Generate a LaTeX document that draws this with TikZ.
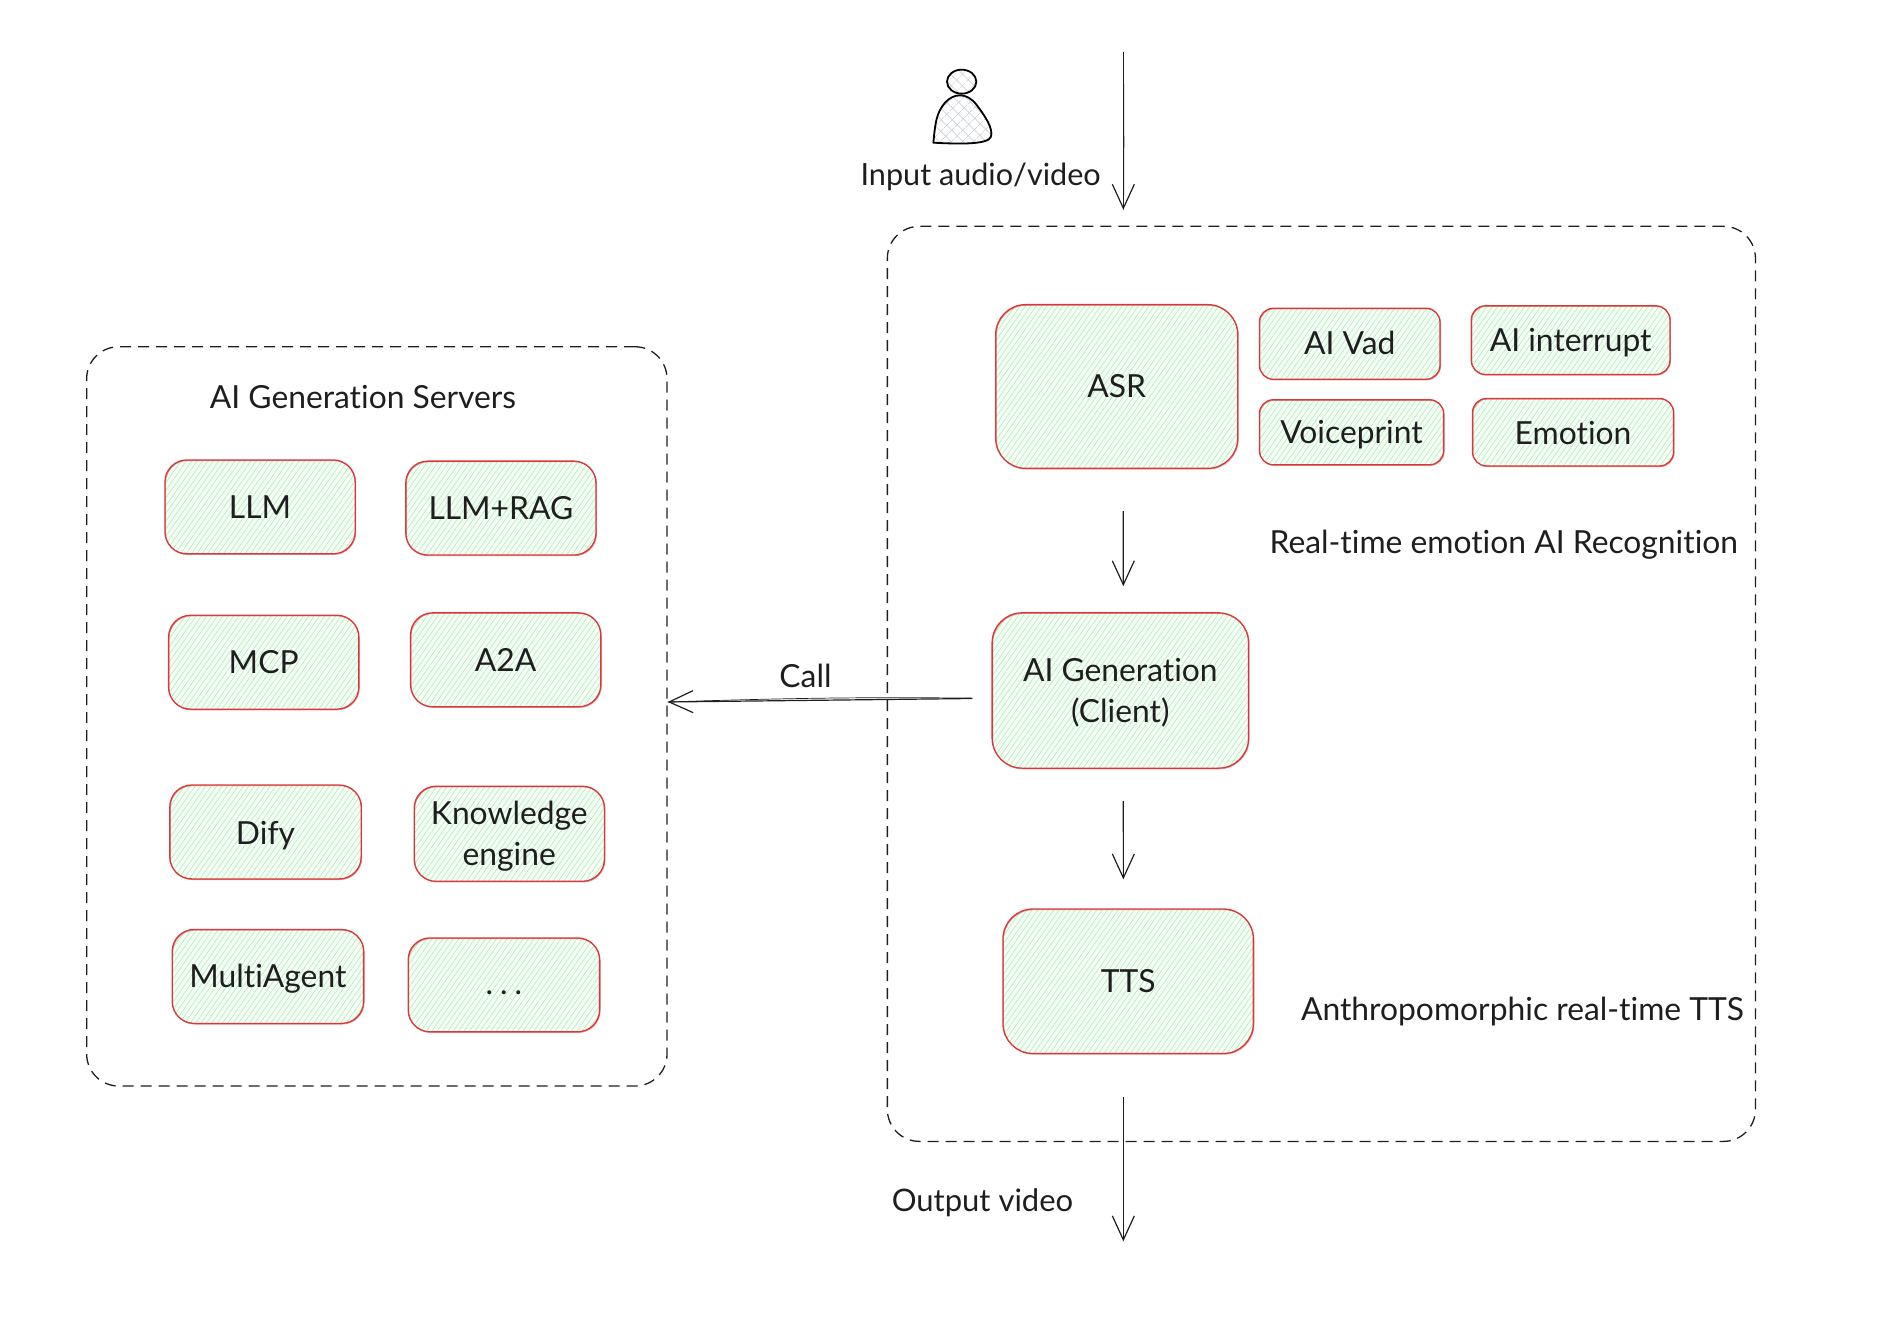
\documentclass[tikz,border=0pt]{standalone}
\usepackage{fontspec}
\setmainfont{Lato}[Ligatures={NoCommon,NoContextual,NoRare}]
\usetikzlibrary{arrows.meta,patterns.meta,calc}
\definecolor{ink}{HTML}{1E1E1E}
\definecolor{redline}{HTML}{D9383A}
\definecolor{hatch}{HTML}{A8EEB2}
\definecolor{persongrey}{HTML}{CED4DA}
\tikzset{
  x=0.602pt,y=-0.602pt,
  txt/.style={text=ink,font=\fontsize{15.9}{20.5}\selectfont,align=center,inner sep=0pt},
  card/.style={txt,draw=redline,line width=0.65pt,
    preaction={fill=hatch,fill opacity=0.1},
    preaction={pattern={Lines[angle=55,distance=2.2pt,line width=0.3pt]},pattern color=hatch},
    postaction={draw=redline,draw opacity=0.55,line width=0.4pt,transform canvas={xshift=0.3pt,yshift=-0.35pt}}},
  bigcard/.style={card,rounded corners=15pt},
  midcard/.style={card,rounded corners=11pt},
  smallcard/.style={card,rounded corners=7pt},
  group/.style={draw=ink,line width=0.65pt,dash pattern=on 5.5pt off 3.5pt,rounded corners=16pt,inner sep=0pt},
  conn/.style={draw=ink,line width=0.6pt,-{Straight Barb[length=12pt,width=11pt,line width=0.6pt]}},
  conntwo/.style={draw=ink,line width=0.35pt},
}
\newcommand{\mv}[2]{\raisebox{#1}[\height][\depth]{#2}}
\newcommand{\dn}[1]{\mv{-1.2pt}{#1}}
% box from display corners: name, style, x1,y1,x2,y2, text
\newcommand{\boxat}[7]{%
  \pgfmathsetmacro{\bw}{(#5-#3)*0.602}%
  \pgfmathsetmacro{\bh}{(#6-#4)*0.602}%
  \node[#2,minimum width=\bw pt,minimum height=\bh pt,inner sep=0pt] (#1) at ({(#3+#5)/2},{(#4+#6)/2}) {#7};}
\begin{document}
\begin{tikzpicture}
\useasboundingbox (0,0) rectangle (1568.1,1094.6);
% groups
\boxat{right}{group}{737}{188}{1458}{948}{}
\boxat{left}{group}{72}{288}{554}{902}{}
% right side cards
\boxat{asr}{bigcard}{827}{253}{1028}{389}{ASR}
\boxat{vad}{smallcard}{1046}{256}{1196}{315}{\mv{0.6pt}{AI Vad}}
\boxat{interrupt}{smallcard}{1222}{254}{1387}{311}{\dn{AI interrupt}}
\boxat{voiceprint}{smallcard}{1046}{332}{1199}{386}{\dn{Voiceprint}}
\boxat{emotion}{smallcard}{1223}{331}{1390}{387}{\mv{-0.6pt}{Emotion}}
\boxat{gen}{bigcard}{824}{509}{1037}{638}{\dn{AI Generation}\\\dn{(Client)}}
\boxat{tts}{bigcard}{833}{755}{1041}{875}{TTS}
% left side cards
\boxat{llm}{midcard}{137}{382}{295}{460}{LLM}
\boxat{rag}{midcard}{337}{383}{495}{461}{LLM+RAG}
\boxat{mcp}{midcard}{140}{511}{298}{589}{MCP}
\boxat{aa}{midcard}{341}{509}{499}{587}{A2A}
\boxat{dify}{midcard}{141}{652}{300}{730}{\mv{-1.8pt}{Dify}}
\boxat{know}{midcard}{344}{653}{502}{732}{\dn{Knowledge}\\\dn{engine}}
\boxat{multi}{midcard}{143}{772}{302}{850}{\dn{MultiAgent}}
\boxat{more}{midcard}{339}{779}{498}{857}{\mv{-4pt}{.\hspace{3.5pt}.\hspace{3.5pt}.}}
% labels
\node[txt] (servers) at (301.5,330) {AI Generation Servers};
\node[txt] (recog) at (1249,452) {Real-time emotion AI Recognition};
\node[txt] (anthro) at (1264.5,840) {Anthropomorphic real-time TTS};
\node[txt,font=\fontsize{15.3}{20.5}\selectfont] (input) at (814.5,147) {Input audio/video};
\node[txt,font=\fontsize{15.5}{20.5}\selectfont] (output) at (816,999) {Output video};
\node[txt] (call) at (669,561) {Call};
% free ends
\coordinate (intop) at (933,43);
\coordinate (outend) at (933,1031);
% connectors
\draw[conn,shorten >=8pt] (intop) -- (intop |- right.north);
\draw[conntwo,shorten >=8pt] (intop) to[bend left=0.6] (intop |- right.north);
\draw[conn,shorten <=21pt,shorten >=13pt] ([xshift=3.3pt]asr.south) -- ([xshift=1.5pt]gen.north);
\draw[conn,shorten <=16pt,shorten >=14.5pt] ([xshift=1.5pt]gen.south) -- ([xshift=-2.4pt]tts.north);
\draw[conn,shorten <=21.5pt] (outend |- tts.south) -- (outend);
\draw[conn,shorten <=9.5pt] ([yshift=-3.9pt]gen.west) -- ([yshift=7.2pt]left.east);
\draw[conntwo,shorten <=9.5pt] ([yshift=-3.9pt]gen.west) to[bend right=1.2] ([yshift=7.2pt]left.east);
% person (coordinates in thirds of a reference pixel)
\begin{scope}[shift={(425pt,-15pt)},x=0.16667pt,y=-0.16667pt]
  \path[pattern={Hatch[angle=45,distance=4pt,line width=0.4pt]},pattern color=persongrey]
    (335,155) ellipse [x radius=44,y radius=36];
  \path[pattern={Hatch[angle=45,distance=4pt,line width=0.4pt]},pattern color=persongrey]
    (250,338) .. controls (256,280) and (258,250) .. (285,218) .. controls (310,190) and (350,185) .. (380,225)
    .. controls (405,258) and (430,295) .. (423,320) .. controls (415,345) and (320,342) .. (250,338) -- cycle;
  \draw[black,line width=0.9pt] (335,155) ellipse [x radius=44,y radius=36];
  \draw[black,line width=0.9pt,line join=round]
    (250,338) .. controls (256,280) and (258,250) .. (285,218) .. controls (310,190) and (350,185) .. (380,225)
    .. controls (405,258) and (430,295) .. (423,320) .. controls (415,345) and (320,342) .. (250,338) -- cycle;
\end{scope}
\end{tikzpicture}
\end{document}
